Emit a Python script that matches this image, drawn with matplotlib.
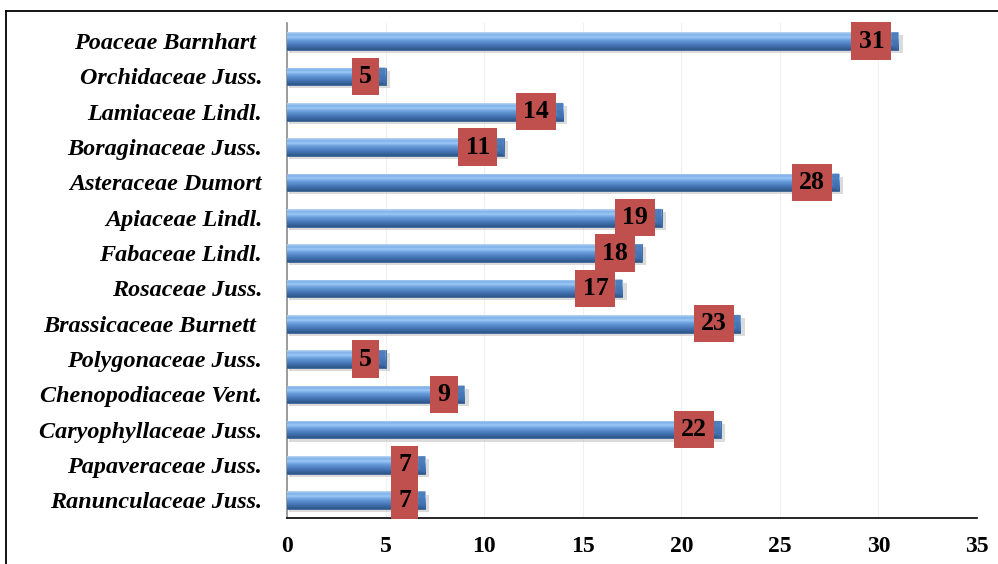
import matplotlib
matplotlib.use("Agg")
import matplotlib.pyplot as plt
import numpy as np
from matplotlib.colors import LinearSegmentedColormap
from matplotlib.lines import Line2D

families = ["Ranunculaceae Juss.", "Papaveraceae Juss.", "Caryophyllaceae Juss.",
            "Chenopodiaceae Vent.", "Polygonaceae Juss.", "Brassicaceae Burnett ",
            "Rosaceae Juss.", "Fabaceae Lindl.", "Apiaceae Lindl.", "Asteraceae Dumort",
            "Boraginaceae Juss.", "Lamiaceae Lindl.", "Orchidaceae Juss.", "Poaceae Barnhart "]
species_counts = [7, 7, 22, 9, 5, 23, 17, 18, 19, 28, 11, 14, 5, 31]
x_ticks = [0, 5, 10, 15, 20, 25, 30, 35]

SERIF = ["Liberation Serif", "DejaVu Serif"]

fig = plt.figure(figsize=(9.98, 5.64), dpi=100)
ax = fig.add_axes([0.2876, 0.0816, 0.979 - 0.2876, 0.9585 - 0.0816])

ypos = np.arange(len(families))
bar_h = 0.5

# shaded blue bars: plain bars first, then a vertical gradient clipped to each
bars = ax.barh(ypos, species_counts, height=bar_h, color="#4F81BD",
               edgecolor="#3A6496", linewidth=0.6, zorder=3)
grad_cmap = LinearSegmentedColormap.from_list(
    "bar_shade",
    [(0.0, "#2E5688"), (0.25, "#4474B4"), (0.55, "#6A9EDC"),
     (0.72, "#9AC8F6"), (0.85, "#7FB0EA"), (1.0, "#B9D6F2")])
grad = np.linspace(0, 1, 64).reshape(-1, 1)
for rect in bars:
    x0, y0 = rect.get_x(), rect.get_y()
    w, h = rect.get_width(), rect.get_height()
    # soft drop shadow under the bar
    ax.add_patch(plt.Rectangle((x0 + 0.1, y0 - 0.09), w + 0.12, h,
                               facecolor="#9A9A9A", alpha=0.35,
                               edgecolor="none", zorder=2))
    im = ax.imshow(grad, cmap=grad_cmap, origin="lower", aspect="auto",
                   extent=(x0, x0 + w, y0, y0 + h), zorder=4,
                   interpolation="bilinear")
    im.set_clip_path(rect)
    # bevelled right end
    ax.add_patch(plt.Polygon([(x0 + w - 0.35, y0 + h), (x0 + w, y0 + h),
                              (x0 + w, y0), (x0 + w - 0.35, y0 + h * 0.45)],
                             closed=True, facecolor="#3F6FAE", alpha=0.8,
                             edgecolor="none", zorder=5))

# value labels in red boxes near the bar end
for y, v in zip(ypos, species_counts):
    ax.annotate(str(v), xy=(v, y), xytext=(-10, 0), textcoords="offset points",
                ha="right", va="center", fontsize=18.5, fontweight="bold",
                family=SERIF, color="black", zorder=6,
                bbox=dict(boxstyle="square,pad=0.28", facecolor="#C0504D",
                          edgecolor="none"))

ax.set_xlim(0, 35)
ax.set_ylim(-0.5, len(families) - 0.5)
ax.set_xticks(x_ticks)
ax.set_xticklabels([str(t) for t in x_ticks], family=SERIF, fontweight="bold",
                   fontsize=17)
ax.set_yticks(ypos)
ax.set_yticklabels(families, family=SERIF, fontweight="bold", style="italic",
                   fontsize=17.4)
ax.tick_params(axis="both", length=0)
ax.tick_params(axis="y", pad=18)
ax.tick_params(axis="x", pad=13)

ax.xaxis.grid(True, color="#F0F0F0", linewidth=0.8, zorder=0)
ax.set_axisbelow(True)
for side in ("top", "right"):
    ax.spines[side].set_visible(False)
ax.spines["left"].set_color("#8C8C8C")
ax.spines["left"].set_linewidth(1.2)
ax.spines["bottom"].set_color("black")
ax.spines["bottom"].set_linewidth(1.2)

# outer frame around the figure
fx, fy = 5.5 / 998, 1 - 10.5 / 564
fig.add_artist(Line2D([fx, fx], [0, fy], color="black", linewidth=1.3,
                      transform=fig.transFigure))
fig.add_artist(Line2D([fx, 1], [fy, fy], color="black", linewidth=1.3,
                      transform=fig.transFigure))

fig.savefig("out.png", dpi=100)
